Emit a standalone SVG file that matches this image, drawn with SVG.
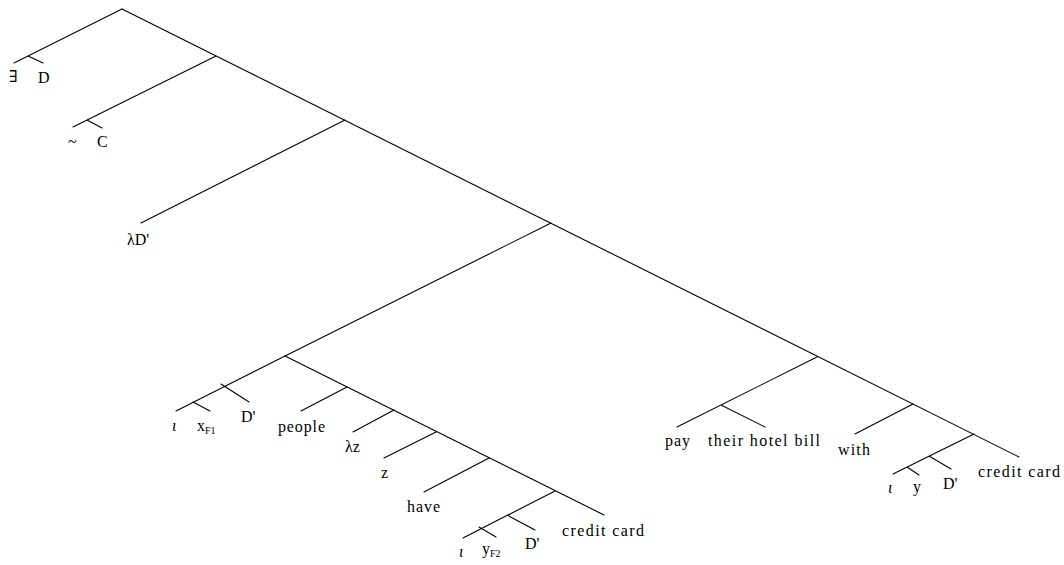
<svg xmlns="http://www.w3.org/2000/svg" width="1064" height="565" viewBox="0 0 1064 565">
  <style>
    .edge { stroke: #000; stroke-width: 1.1; fill: none; stroke-linecap: round; }
    text { font-family: 'Liberation Serif', 'DejaVu Serif', 'Times New Roman', serif; font-size: 16px; fill: #000; }
    .sub { font-size: 10px; }
    .gr { font-style: italic; }
  </style>
  <rect width="1064" height="565" fill="#fff"/>

  <!-- branches of the syntax tree -->
  <g id="connectors">
    <!-- main spine -->
    <path class="edge" d="M122,9 L1019,457"/>
    <!-- top: exists D -->
    <path class="edge" d="M122,9 L14,63 M28,56 L43,63"/>
    <!-- negation C -->
    <path class="edge" d="M216,56 L73,127 M87,120 L102,128"/>
    <!-- lambda D' -->
    <path class="edge" d="M345,120 L141,223"/>
    <!-- relative clause subtree -->
    <path class="edge" d="M551,223 L285,356"/>
    <path class="edge" d="M285,356 L176,411 M221,384 L249,402 M193,402 L210,411"/>
    <path class="edge" d="M285,356 L604,515"/>
    <path class="edge" d="M347,387 L301,411"/>
    <path class="edge" d="M394,410 L353,432"/>
    <path class="edge" d="M436,432 L384,458"/>
    <path class="edge" d="M489,458 L424,492"/>
    <path class="edge" d="M555,491 L463,538 M507,515 L535,530 M479,527 L496,537"/>
    <!-- verb phrase subtree -->
    <path class="edge" d="M817,357 L677,427 M721,405 L765,427"/>
    <path class="edge" d="M913,404 L855,434"/>
    <path class="edge" d="M974,434 L893,474 M929,456 L951,469 M907,467 L919,475"/>
  </g>

  <g id="n-exists"><text x="9" y="82">∃</text></g>
  <g id="n-D"><text x="38" y="83">D</text></g>
  <g id="n-neg"><text x="68" y="147">~</text></g>
  <g id="n-C"><text x="97" y="147">C</text></g>
  <g id="n-lambdaD"><text x="127" y="245">λD'</text></g>

  <g id="n-iota1"><text class="gr" x="172" y="431">ι</text></g>
  <g id="n-xF1"><text x="197" y="431">x<tspan class="sub" dy="3">F1</tspan></text></g>
  <g id="n-D1"><text x="241" y="422">D'</text></g>
  <g id="n-people"><text x="278" y="432" textLength="47" lengthAdjust="spacing">people</text></g>
  <g id="n-lambdaz"><text x="345" y="452">λz</text></g>
  <g id="n-z"><text x="381" y="478">z</text></g>
  <g id="n-have"><text x="407" y="512" textLength="33" lengthAdjust="spacing">have</text></g>
  <g id="n-iota2"><text class="gr" x="459" y="557">ι</text></g>
  <g id="n-yF2"><text x="482" y="554">y<tspan class="sub" dy="3">F2</tspan></text></g>
  <g id="n-D2"><text x="525" y="549">D'</text></g>
  <g id="n-cc1"><text x="562" y="536" textLength="82" lengthAdjust="spacing">credit card</text></g>

  <g id="n-pay"><text x="665" y="446" textLength="25" lengthAdjust="spacing">pay</text></g>
  <g id="n-bill"><text x="708" y="446" textLength="112" lengthAdjust="spacing">their hotel bill</text></g>
  <g id="n-with"><text x="838" y="455" textLength="32" lengthAdjust="spacing">with</text></g>
  <g id="n-iota3"><text class="gr" x="888" y="493">ι</text></g>
  <g id="n-y"><text x="913" y="492">y</text></g>
  <g id="n-D3"><text x="943" y="489">D'</text></g>
  <g id="n-cc2"><text x="978" y="477" textLength="82" lengthAdjust="spacing">credit card</text></g>
</svg>
